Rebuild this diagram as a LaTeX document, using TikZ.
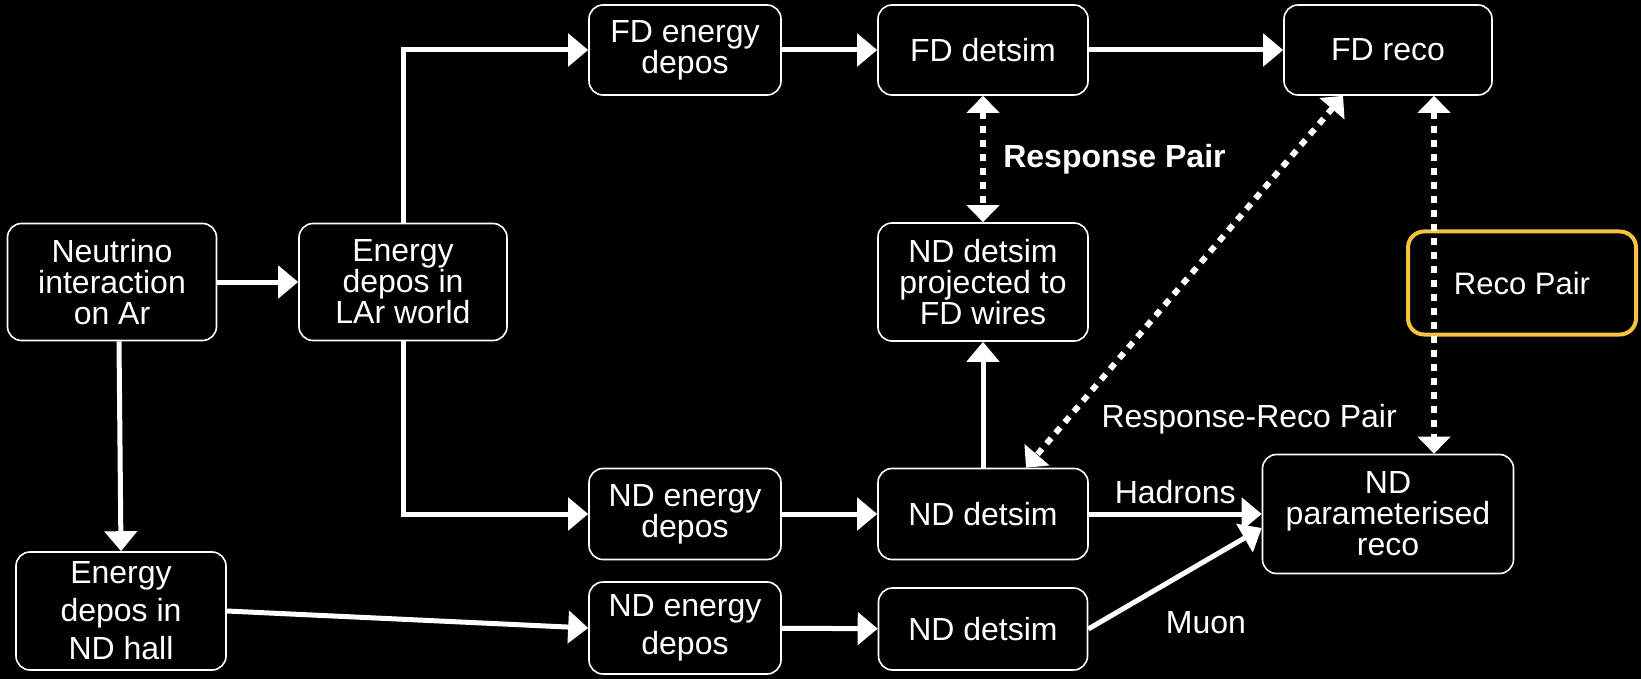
\documentclass[tikz,border=0pt]{standalone}
\usepackage{fontspec}
\setmainfont{Liberation Sans}
\usetikzlibrary{arrows.meta,positioning}

\definecolor{pairgold}{HTML}{F5C242}

\tikzset{
  box/.style={draw=white,line width=1.6pt,rounded corners=14pt,fill=black,text=white,
    align=center,inner sep=0pt,font=\fontsize{32}{31}\selectfont},
  loose/.style={font=\fontsize{32}{38}\selectfont},
  pairbox/.style={draw=pairgold,line width=4pt,rounded corners=16pt,text=white,
    align=center,inner sep=0pt,font=\fontsize{31}{31}\selectfont},
  flow/.style={draw=white,line width=5pt,-{Triangle[length=20pt,width=32pt]}},
  pair/.style={draw=white,line width=6pt,dash pattern=on 7pt off 7pt,
    {Triangle[length=17pt,width=32pt]}-{Triangle[length=17pt,width=32pt]}},
  lbl/.style={text=white,font=\fontsize{32}{31}\selectfont}
}

\begin{document}
\begin{tikzpicture}[x=1pt,y=-1pt]
	\fill[black] (0,0) rectangle (1641,679);
	\useasboundingbox (0,0) rectangle (1641,679);

	% top row
	\node[box,minimum width=209pt,minimum height=117pt] (nu) at (112,282) {Neutrino\\interaction\\on Ar};
	\node[box,minimum width=208pt,minimum height=117pt] (lar) at (403,282) {Energy\\depos in\\LAr world};
	\node[box,minimum width=192pt,minimum height=90pt] (fdep) at (685,50) {FD energy\\depos};
	\node[box,minimum width=210pt,minimum height=90pt] (fdsim) at (983,50) {FD detsim};
	\node[box,minimum width=208pt,minimum height=90pt] (fdreco) at (1388,50) {FD reco};
	\node[box,minimum width=210pt,minimum height=118pt] (ndproj) at (983,282) {ND detsim\\projected to\\FD wires};
	\node[pairbox,minimum width=228pt,minimum height=103pt] (recopair) at (1522,283) {Reco Pair};

	% near detector rows
	\node[box,minimum width=192pt,minimum height=91pt] (ndep) at (685,514) {ND energy\\depos};
	\node[box,minimum width=210pt,minimum height=91pt] (ndsim) at (983,514) {ND detsim};
	\node[box,minimum width=251pt,minimum height=119pt] (ndreco) at (1388,514) {ND\\parameterised\\reco};
	\node[box,loose,minimum width=210pt,minimum height=118pt] (ndhall) at (121,611) {Energy\\depos in\\ND hall};
	\node[box,loose,minimum width=192pt,minimum height=92pt] (ndep2) at (685,628) {ND energy\\depos};
	\node[box,minimum width=209pt,minimum height=82pt] (ndsim2) at (983,629) {ND detsim};

	% flow
	\draw[flow] (nu) -- (lar);
	\draw[flow] (lar.north) |- (fdep.west);
	\draw[flow] (lar.south) |- (ndep.west);
	\draw[flow] (fdep) -- (fdsim);
	\draw[flow] (fdsim) -- (fdreco);
	\draw[flow] (ndep) -- (ndsim);
	\draw[flow] (ndsim) -- (ndproj);
	\draw[flow] (ndsim) -- node[lbl,midway,above=4pt] {Hadrons} (ndreco);
	\draw[flow] ([xshift=7pt]nu.south) -- (ndhall.north);
	\draw[flow] (ndhall.east) -- (ndep2.west);
	\draw[flow] (ndep2) -- (ndsim2);
	\draw[flow] (ndsim2.east) -- ([yshift=-14pt]ndreco.west);
	\node[lbl] (muon) at (1206,623) {Muon};

	% pairs
	\draw[pair] (fdsim) -- node[lbl,midway,right=14pt,font=\fontsize{32}{31}\selectfont\bfseries] {Response Pair} (ndproj);
	\draw[pair] ([xshift=-45pt]fdreco.south) -- node[lbl,pos=0.87,right=28pt] {Response-Reco Pair} ([xshift=43pt]ndsim.north);
	\draw[pair] ([xshift=46pt]fdreco.south) -- ([xshift=46pt]ndreco.north);
\end{tikzpicture}
\end{document}
